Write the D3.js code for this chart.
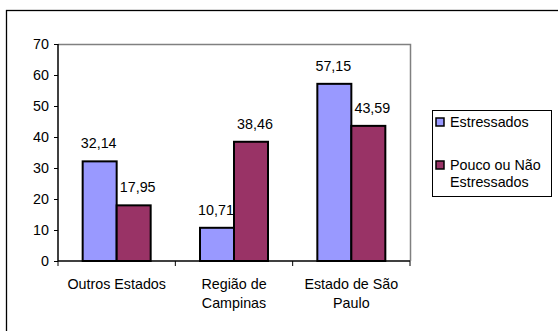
<!DOCTYPE html>
<html><head><meta charset="utf-8">
<script src="https://cdn.jsdelivr.net/npm/d3@7"></script>
<style>body{margin:0;background:#fff}svg{display:block}</style>
</head><body>
<div id="chart"></div>
<script>
// dados
const categorias=[["Outros Estados"],["Região de","Campinas"],["Estado de São","Paulo"]];
const series=["Estressados","Pouco ou Não Estressados"];
const legendaLinhas=[["Estressados"],["Pouco ou Não","Estressados"]];
const estressados=[32.14,10.71,57.15];
const poucoOuNao=[17.95,38.46,43.59];
const cores=["#9999ff","#993366"];
const ticks=[0,10,20,30,40,50,60,70];

const W=558,H=331;
const FONT="'Liberation Sans',Arial,sans-serif",FS=14.3;
const svg=d3.select("#chart").append("svg").attr("width",W).attr("height",H);

// moldura externa
svg.append("rect").attr("x",6.5).attr("y",10.5).attr("width",W).attr("height",H)
  .attr("fill","#fff").attr("stroke","#000").attr("stroke-width",1.3);

const L=58,R=410,T=44,B=261;
const x=d3.scaleBand().domain(d3.range(categorias.length)).range([L,R]);
const y=d3.scaleLinear().domain([0,70]).range([B,T]);
const barW=34;
const labelDx=[-1,4]; // rótulos deslocados como no Excel

// borda da área de plotagem
svg.append("path").attr("d",`M${L},${T+0.5}H${R+0.5}V${B}`).attr("fill","none")
  .attr("stroke","#808080").attr("stroke-width",1.5);

const dados=[estressados,poucoOuNao];
dados.forEach((s,si)=>{
  svg.selectAll(null).data(s).enter().append("rect")
    .attr("x",(d,i)=>x(i)+x.bandwidth()/2-barW+si*barW)
    .attr("y",d=>y(d)).attr("width",barW).attr("height",d=>B-y(d))
    .attr("fill",cores[si]).attr("stroke","#000").attr("stroke-width",2);
  svg.selectAll(null).data(s).enter().append("text")
    .attr("x",(d,i)=>x(i)+x.bandwidth()/2-barW/2+si*barW+labelDx[si])
    .attr("y",d=>y(d)-13).attr("text-anchor","middle")
    .attr("font-family",FONT).attr("font-size",FS).attr("fill","#000")
    .text(d=>d3.format(".2f")(d).replace(".",","));
});

// eixo y
const ay=svg.append("g").attr("transform",`translate(${L},0)`)
  .call(d3.axisLeft(y).tickValues(ticks).tickSize(4).tickPadding(5));
ay.selectAll("text").attr("font-family",FONT).attr("font-size",FS).attr("fill","#000");
ay.selectAll("line,path").attr("stroke","#000");
ay.select(".domain").attr("d",`M0,${B}V${T}`).attr("stroke-width",1.5);

// eixo x
const ax=svg.append("g").attr("transform",`translate(0,${B})`);
ax.append("line").attr("x1",L).attr("x2",R).attr("stroke","#000").attr("stroke-width",1.5);
d3.range(categorias.length+1).forEach(i=>{
  const xx=i<categorias.length?x(i):R;
  ax.append("line").attr("x1",xx).attr("x2",xx).attr("y1",0).attr("y2",5).attr("stroke","#000");
});
categorias.forEach((c,i)=>{
  c.forEach((ln,j)=>{
    ax.append("text").attr("x",x(i)+x.bandwidth()/2).attr("y",28+j*19)
      .attr("text-anchor","middle").attr("font-family",FONT).attr("font-size",FS)
      .attr("fill","#000").text(ln);
  });
});

// legenda
const lg=svg.append("g");
lg.append("rect").attr("x",432.5).attr("y",110.5).attr("width",119).attr("height",86)
  .attr("fill","#fff").attr("stroke","#000");
legendaLinhas.forEach((ls,i)=>{
  const yy=122+i*43;
  lg.append("rect").attr("x",436).attr("y",yy-4).attr("width",8).attr("height",8)
    .attr("fill",cores[i]).attr("stroke","#000").attr("stroke-width",1.5);
  ls.forEach((ln,j)=>{
    lg.append("text").attr("x",450).attr("y",yy+5+j*17).attr("font-family",FONT)
      .attr("font-size",FS).attr("fill","#000").text(ln);
  });
});
</script>
</body></html>
